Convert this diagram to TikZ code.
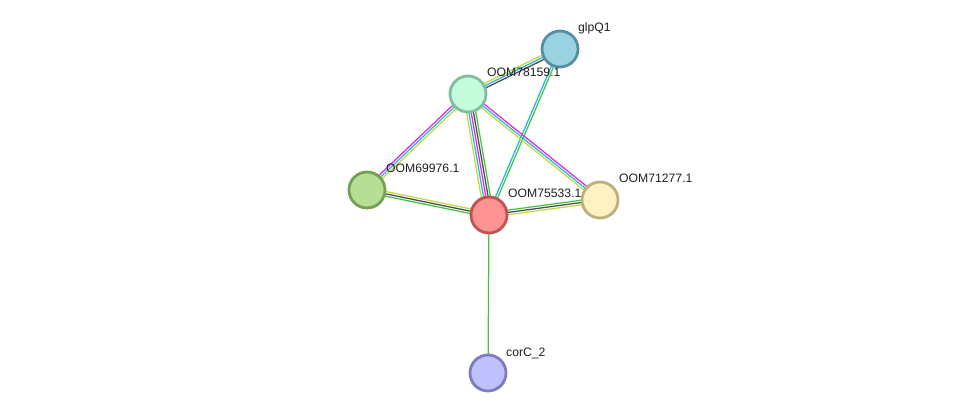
\documentclass[tikz,border=0pt]{standalone}
\usepackage{fontspec}
\setmainfont{Liberation Sans}
\usetikzlibrary{calc}
\pgfdeclarelayer{bg}
\pgfsetlayers{bg,main}
\definecolor{eyel}{HTML}{C5D63E}
\definecolor{ecya}{HTML}{27B6E2}
\definecolor{emag}{HTML}{DD2ADD}
\definecolor{edrk}{HTML}{4A4A4A}
\definecolor{egrn}{HTML}{3FC63F}
\definecolor{fglp}{HTML}{99D3E2}\definecolor{dglp}{HTML}{5690A0}
\definecolor{fm78}{HTML}{C4FCDC}\definecolor{dm78}{HTML}{80BEA0}
\definecolor{fm69}{HTML}{B6DE96}\definecolor{dm69}{HTML}{74A052}
\definecolor{fm75}{HTML}{FF9292}\definecolor{dm75}{HTML}{C05252}
\definecolor{fm71}{HTML}{FFF2C2}\definecolor{dm71}{HTML}{BEB07C}
\definecolor{fcor}{HTML}{C0C0FF}\definecolor{dcor}{HTML}{7C7CC0}
\tikzset{
  prot/.style={circle, minimum size=36pt, inner sep=0pt, line width=2.8pt},
  lbl/.style={anchor=base west, inner sep=0pt, font=\fontsize{12.2}{14}\selectfont, text=black!88},
  eline/.style={line width=1.25pt}
}
\newcommand{\medge}[4]{%
  \foreach \c [count=\i] in {#4} {
    \pgfmathsetmacro\off{(\i-1-(#3-1)/2)*2.3}
    \draw[eline, color=\c] ($(#1.center)!\off pt!90:(#2.center)$) -- ($(#2.center)!\off pt!-90:(#1.center)$);
  }%
}
\begin{document}
\begin{tikzpicture}[x=1pt, y=-1pt]
\useasboundingbox (0,0) rectangle (976,419);
\node[prot, fill=fglp, draw=dglp] (glp) at (560,49) {};
\node[prot, fill=fm78, draw=dm78] (m78) at (468,94) {};
\node[prot, fill=fm69, draw=dm69] (m69) at (367,190) {};
\node[prot, fill=fm75, draw=dm75] (m75) at (489,215) {};
\node[prot, fill=fm71, draw=dm71] (m71) at (600,200) {};
\node[prot, fill=fcor, draw=dcor] (cor) at (488,373) {};
\begin{pgfonlayer}{bg}
\medge{m78}{glp}{3}{edrk,ecya,eyel}
\medge{m75}{glp}{2}{egrn,ecya}
\medge{m78}{m69}{3}{emag,ecya,eyel}
\medge{m78}{m75}{5}{eyel,ecya,emag,edrk,egrn}
\medge{m78}{m71}{3}{eyel,ecya,emag}
\medge{m69}{m75}{3}{egrn,edrk,eyel}
\medge{m75}{m71}{3}{eyel,edrk,egrn}
\medge{m75}{cor}{1}{egrn}
\end{pgfonlayer}
\node[lbl] (lglp) at ([shift={(18,-17)}]glp.center) {glpQ1};
\node[lbl] (lm78) at ([shift={(19,-17)}]m78.center) {OOM78159.1};
\node[lbl] (lm69) at ([shift={(19,-17)}]m69.center) {OOM69976.1};
\node[lbl] (lm75) at ([shift={(19,-17)}]m75.center) {OOM75533.1};
\node[lbl] (lm71) at ([shift={(19,-17)}]m71.center) {OOM71277.1};
\node[lbl] (lcor) at ([shift={(18,-17)}]cor.center) {corC\_2};
\end{tikzpicture}
\end{document}
